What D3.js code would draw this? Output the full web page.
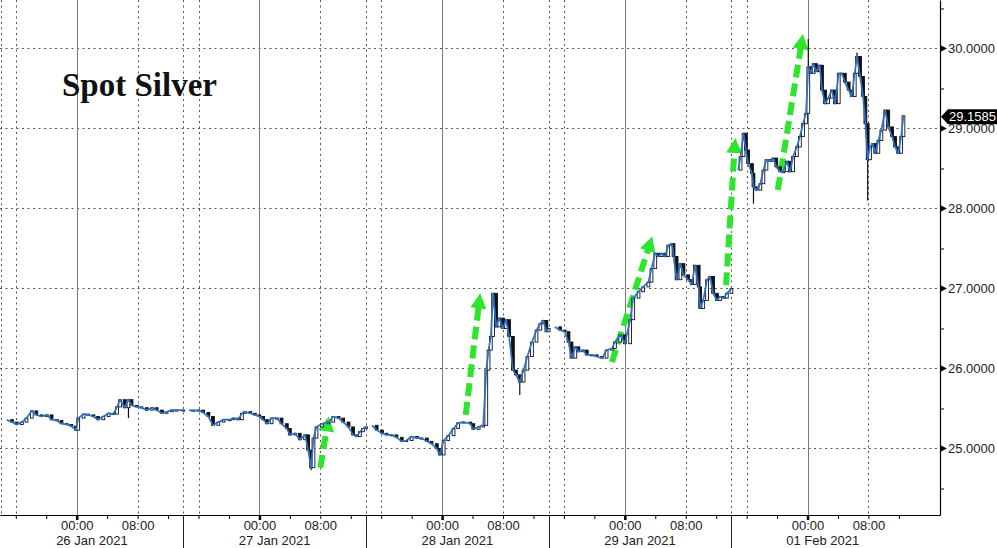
<!DOCTYPE html>
<html><head><meta charset="utf-8">
<script src="https://cdn.jsdelivr.net/npm/d3@7"></script>
<style>html,body{margin:0;padding:0;background:#fff;overflow:hidden}</style>
</head><body><svg id="c" width="997" height="548"></svg>
<script>
// ---------- data ----------
const title = "Spot Silver";
const lastPrice = 29.1585;
const yTickValues = [25, 26, 27, 28, 29, 30];
const yMinorValues = [24.5, 25.5, 26.5, 27.5, 28.5, 29.5, 30.5];
const dayStartHours = [0, 24, 48, 72, 96];           // 00:00 of each trading day (weekend collapsed)
const dayLabels = ["26 Jan 2021", "27 Jan 2021", "28 Jan 2021", "29 Jan 2021", "01 Feb 2021"];
const timeTickLabels = {0: "00:00", 8: "08:00"};

// sessions: hours relative to 26 Jan 00:00, prices (USD/oz)
const s1Hours = [-9.2,-8.5,-7.9,-7.2,-6.6,-5.9,-5.3,-4.6,-3.9,-3.3,-2.6,-2.0,-1.3,-0.7,-0.1,0.2,0.9,1.5,2.2,2.8,3.5,4.2,4.8,5.3,5.7,6.3,6.8,7.2,7.9,8.5,9.2,9.9,10.5,11.2,11.8,12.5,13.1,14.0];
const s1Prices = [25.36,25.33,25.30,25.33,25.38,25.47,25.42,25.40,25.42,25.36,25.35,25.31,25.30,25.28,25.23,25.38,25.43,25.42,25.40,25.36,25.40,25.44,25.43,25.52,25.61,25.51,25.61,25.54,25.52,25.51,25.48,25.51,25.48,25.44,25.46,25.48,25.48,25.48];
const s2Hours = [14.75,15.3,16.0,16.6,17.3,17.9,18.6,19.3,20.1,20.6,21.2,21.7,22.1,22.8,23.4,24.0,24.5,25.0,25.6,26.3,26.9,27.6,28.0,28.7,29.3,30.0,30.4,30.8,31.1,31.5,32.2,33.1,33.7,34.4,35.0,35.7,36.3,36.8,37.2,37.6,38.0];
const s2Prices = [25.48,25.47,25.48,25.45,25.40,25.29,25.33,25.36,25.36,25.38,25.36,25.44,25.46,25.44,25.42,25.40,25.36,25.31,25.38,25.38,25.31,25.25,25.17,25.19,25.11,25.17,24.98,24.76,25.13,25.27,25.31,25.33,25.40,25.38,25.33,25.27,25.17,25.15,25.21,25.25,25.27];
const s3Hours = [38.8,39.4,40.1,40.7,41.4,42.0,42.7,43.3,44.0,44.7,45.3,46.0,46.6,47.3,47.7,48.2,48.8,49.5,50.1,50.8,51.7,52.1,52.8,53.4,53.8,54.1,54.4,54.7,55.1,55.5,56.0,56.4,56.8,57.3,57.7,58.2,58.7,59.2,59.8,60.4,60.9,61.3,61.7,62.0];
const s3Prices = [25.29,25.23,25.19,25.17,25.17,25.14,25.09,25.10,25.15,25.13,25.13,25.09,25.06,25.00,24.92,25.10,25.16,25.25,25.32,25.33,25.31,25.24,25.27,25.29,25.98,26.23,26.40,26.94,26.52,26.63,26.50,26.61,26.40,25.98,25.92,25.83,25.98,26.15,26.33,26.48,26.56,26.60,26.46,26.50];
const s4Hours = [62.8,63.5,64.1,64.6,65.0,65.5,65.9,66.5,67.0,67.7,68.3,69.0,69.6,70.3,70.7,71.4,72.0,72.7,73.1,73.8,74.4,75.1,75.5,76.0,76.4,76.8,77.3,77.7,78.2,78.4,78.8,79.3,79.7,80.3,80.8,81.2,81.7,81.9,82.3,82.8,83.2,83.6,84.1,84.5,85.0,85.4,86.0];
const s4Prices = [26.52,26.48,26.46,26.33,26.13,26.27,26.21,26.23,26.17,26.17,26.15,26.13,26.23,26.25,26.33,26.42,26.31,26.61,26.88,26.96,27.02,27.08,27.25,27.44,27.40,27.44,27.40,27.54,27.56,27.40,27.11,27.31,27.17,27.11,27.05,27.29,27.02,26.75,26.85,27.11,27.15,26.94,26.85,26.90,26.88,26.94,27.00];
const s5Hours = [86.9,87.2,87.6,87.9,88.2,88.7,88.9,89.3,89.8,90.2,90.6,91.1,91.5,91.9,92.4,92.8,93.3,93.7,94.1,94.6,95.0,95.4,95.8,96.1,96.4,96.8,97.1,97.6,97.9,98.3,98.7,99.2,99.6,100.1,100.5,100.9,101.4,101.8,102.2,102.5,102.9,103.3,103.6,103.9,104.2,104.6,104.9,105.3,105.7,106.2,106.6,107.1,107.5,107.9,108.3,108.6];
const s5Prices = [28.48,28.65,28.94,28.73,28.56,28.44,28.27,28.23,28.31,28.48,28.61,28.59,28.63,28.52,28.46,28.46,28.59,28.46,28.65,28.77,28.90,29.06,29.19,29.77,29.69,29.81,29.71,29.79,29.48,29.31,29.38,29.48,29.31,29.69,29.69,29.58,29.48,29.40,29.69,29.90,29.65,29.40,29.06,28.61,28.77,28.81,28.69,28.85,28.98,29.23,29.02,28.90,28.77,28.69,28.90,29.1585];

// wick extremes
const wickHours = [6.8, 30.8, 58.2, 88.9, 96.1, 102.5, 103.9];
const wickFrom  = [25.61, 24.98, 25.83, 28.27, 29.77, 29.90, 28.61];
const wickTo    = [25.38, 24.73, 25.67, 28.06, 30.12, 29.95, 28.10];

// green annotation arrows (hour, price)
const arrowFromHours = [32.0, 51.1, 70.3, 85.3, 92.1];
const arrowFromPrices = [24.76, 25.42, 26.08, 27.04, 28.23];
const arrowToHours = [33.1, 53.0, 75.6, 86.5, 95.4];
const arrowToPrices = [25.40, 26.94, 27.65, 28.88, 30.18];

// ---------- chart ----------
const W = 940, H = 515;
const svg = d3.select("#c");
const x = d3.scaleLinear().domain([-10.075, 113.4]).range([0, W]);
const y = d3.scaleLinear().domain([24.169, 30.606]).range([H, 0]);

const defs = svg.append("defs");
defs.append("filter").attr("id", "soft").append("feGaussianBlur").attr("stdDeviation", 0.7);

const grid = svg.append("g");
// horizontal dotted grid
grid.selectAll("line.hg").data(yTickValues).join("line")
  .attr("x1", 0).attr("x2", W).attr("y1", d => y(d)).attr("y2", d => y(d))
  .attr("stroke", "#555").attr("stroke-dasharray", "2,3.5").attr("stroke-width", 1);
// vertical dotted grid (08:00, 14:00, 16:00)
const dottedHours = [];
dayStartHours.forEach(d => { dottedHours.push(d - 10, d - 8, d + 8); });
grid.selectAll("line.vd").data(dottedHours).join("line")
  .attr("x1", d => Math.round(x(d)) + 0.5).attr("x2", d => Math.round(x(d)) + 0.5)
  .attr("y1", 0).attr("y2", H)
  .attr("stroke", "#555").attr("stroke-dasharray", "2,3.5").attr("stroke-width", 1);
// solid day lines
grid.selectAll("line.vs").data(dayStartHours).join("line")
  .attr("x1", d => Math.round(x(d)) + 0.5).attr("x2", d => Math.round(x(d)) + 0.5)
  .attr("y1", 0).attr("y2", H)
  .attr("stroke", "#7a7a7a").attr("stroke-width", 1);

// title
svg.append("text").attr("x", 62).attr("y", 96).text(title)
  .attr("font-family", "'Liberation Serif', 'DejaVu Serif', serif")
  .attr("font-weight", "bold").attr("font-size", 33).attr("fill", "#111");

// green arrows
const arrows = d3.range(arrowFromHours.length).map(i => ({
  x0: x(arrowFromHours[i]), y0: y(arrowFromPrices[i]),
  x1: x(arrowToHours[i]), y1: y(arrowToPrices[i])
}));
const ag = svg.append("g").attr("filter", "url(#soft)");
arrows.forEach(a => {
  const dx = a.x1 - a.x0, dy = a.y1 - a.y0, L = Math.hypot(dx, dy);
  const ux = dx / L, uy = dy / L, headLen = 15, headW = 8;
  const bx = a.x1 - ux * headLen, by = a.y1 - uy * headLen;
  ag.append("line").attr("x1", a.x0).attr("y1", a.y0).attr("x2", bx + ux * 1).attr("y2", by + uy * 1)
    .attr("stroke", "#2ee52e").attr("stroke-width", 6).attr("stroke-dasharray", "13,6");
  const px = -uy, py = ux;
  ag.append("path")
    .attr("d", `M${a.x1},${a.y1} L${bx + px * headW},${by + py * headW} L${bx - px * headW},${by - py * headW} Z`)
    .attr("fill", "#2ee52e");
});

// price series
const sessions = [[s1Hours, s1Prices], [s2Hours, s2Prices], [s3Hours, s3Prices], [s4Hours, s4Prices], [s5Hours, s5Prices]]
  .map(([hs, ps]) => d3.range(Math.min(hs.length, ps.length)).map(i => ({h: hs[i], p: ps[i]})));

const pg = svg.append("g");
// wicks
pg.selectAll("line.wick").data(wickHours.map((h, i) => ({h, a: wickFrom[i], b: wickTo[i]}))).join("line")
  .attr("x1", d => x(d.h)).attr("x2", d => x(d.h)).attr("y1", d => y(d.a)).attr("y2", d => y(d.b))
  .attr("stroke", "#111").attr("stroke-width", 1.2);
// candles (open = previous close)
sessions.forEach(s => {
  const c = s.slice(1).map((d, i) => ({h: d.h, o: s[i].p, c: d.p}));
  pg.append("g").selectAll("rect").data(c).join("rect")
    .attr("x", d => x(d.h) - 1.4).attr("width", 2.8)
    .attr("y", d => Math.min(y(d.o), y(d.c)))
    .attr("height", d => Math.max(1, Math.abs(y(d.o) - y(d.c))))
    .attr("fill", d => d.c >= d.o ? "#fff" : "#111")
    .attr("stroke", "#111").attr("stroke-width", 0.9);
});
const line = d3.line().x(d => x(d.h)).y(d => y(d.p)).curve(d3.curveLinear);
sessions.forEach(s => {
  pg.append("path").attr("d", line(s)).attr("fill", "none")
    .attr("stroke", "#2f6fc6").attr("stroke-width", 1.7).attr("stroke-linejoin", "round");
});

// ---------- axes ----------
const font = "'Liberation Sans', Arial, sans-serif";
// bottom axis
const xTicks = d3.range(-8, 109, 4);
const xAxis = d3.axisBottom(x).tickValues(xTicks).tickSize(4).tickSizeOuter(0)
  .tickFormat(h => timeTickLabels[((h % 24) + 24) % 24] || "");
const gx = svg.append("g").attr("transform", `translate(0,${H})`).call(xAxis);
gx.select(".domain").attr("stroke", "#000").attr("stroke-width", 1.2);
gx.selectAll(".tick line").attr("stroke", "#000")
  .attr("stroke-width", d => (((d % 24) + 24) % 24 === 0 ? 2.5 : 1))
  .attr("y2", d => (((d % 24) + 24) % 24 === 0 ? 5 : 4));
gx.selectAll(".tick text").attr("y", 6).attr("font-family", font).attr("font-size", 13).attr("fill", "#222");
// date separators & labels
const sepHours = dayStartHours.map(d => d - 10).concat([86 + 24]);
svg.append("g").selectAll("line").data(sepHours.slice(1, 5)).join("line")
  .attr("x1", d => Math.round(x(d)) + 0.5).attr("x2", d => Math.round(x(d)) + 0.5)
  .attr("y1", H).attr("y2", 548).attr("stroke", "#222").attr("stroke-width", 1);
svg.append("g").selectAll("text").data(dayLabels).join("text")
  .attr("x", (d, i) => (x(dayStartHours[i] - 10) + x(dayStartHours[i] + 14)) / 2)
  .attr("y", 545).attr("text-anchor", "middle")
  .attr("font-family", font).attr("font-size", 13).attr("fill", "#222").text(d => d);

// right axis
const yAxis = d3.axisRight(y).tickValues(yMinorValues).tickSize(4).tickSizeOuter(0).tickFormat("");
const gy = svg.append("g").attr("transform", `translate(${W},0)`).call(yAxis);
gy.select(".domain").attr("stroke", "#000").attr("stroke-width", 1.2);
gy.selectAll(".tick line").attr("stroke", "#000");
const fmt = d3.format(".4f");
const major = svg.append("g").attr("transform", `translate(${W},0)`);
major.selectAll("path").data(yTickValues).join("path")
  .attr("d", d => `M0,${y(d) - 3.5} L7,${y(d)} L0,${y(d) + 3.5} Z`).attr("fill", "#000");
major.selectAll("text").data(yTickValues).join("text")
  .attr("x", 8).attr("y", d => y(d)).attr("dy", "0.35em")
  .attr("font-family", font).attr("font-size", 13).attr("fill", "#222").text(d => fmt(d));

// last price tag
const ly = y(lastPrice) + 1;
const tag = svg.append("g").attr("transform", `translate(${W},0)`);
tag.append("path").attr("d", `M1,${ly} L8,${ly - 7.5} L60,${ly - 7.5} L60,${ly + 7.5} L8,${ly + 7.5} Z`).attr("fill", "#000");
tag.append("text").attr("x", 9).attr("y", ly).attr("dy", "0.36em")
  .attr("font-family", font).attr("font-size", 13).attr("fill", "#fff").text(lastPrice.toFixed(4));
</script></body></html>
